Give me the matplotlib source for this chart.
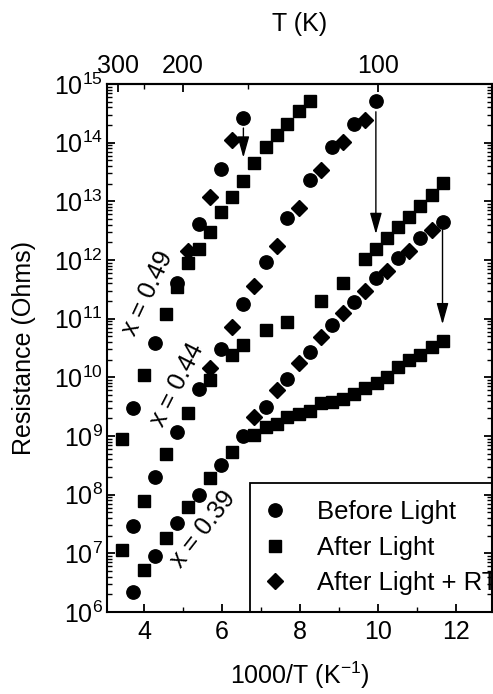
import numpy as np
import matplotlib
matplotlib.use("Agg")
import matplotlib.pyplot as plt
from matplotlib.ticker import LogLocator, NullFormatter, FixedLocator

plt.rcParams['font.family'] = ['Liberation Sans', 'DejaVu Sans']
plt.rcParams['mathtext.fontset'] = 'custom'
plt.rcParams['mathtext.rm'] = 'Liberation Sans'
plt.rcParams['mathtext.it'] = 'Liberation Sans'
plt.rcParams['mathtext.default'] = 'regular'

# ---------------- data ----------------
# x = 0.49
x49_before = [3.71, 4.28, 4.85, 5.42, 5.97, 6.55]
r49_before = [3.0e9, 3.8e10, 4.1e11, 4.1e12, 3.6e13, 2.6e14]
x49_after = [3.43, 4.00, 4.56, 4.85, 5.14, 5.42, 5.70, 5.97, 6.27, 6.55,
             6.83, 7.12, 7.40, 7.68, 7.97, 8.26]
r49_after = [8.8e8, 1.1e10, 1.2e11, 3.4e11, 8.8e11, 1.54e12, 3.0e12, 6.5e12,
             1.17e13, 2.2e13, 4.45e13, 8.5e13, 1.35e14, 2.1e14, 3.4e14, 5.2e14]
x49_rt = [5.14, 5.70, 6.27]
r49_rt = [1.43e12, 1.2e13, 1.09e14]

# x = 0.44
x44_before = [3.72, 4.28, 4.85, 5.42, 5.97, 6.55, 7.12, 7.68, 8.26, 8.83,
              9.39, 9.95]
r44_before = [2.9e7, 2.0e8, 1.16e9, 6.3e9, 3.0e10, 1.78e11, 9.4e11, 5.1e12,
              2.3e13, 8.5e13, 2.1e14, 5.2e14]
x44_after = [3.43, 4.00, 4.56, 5.14, 5.70, 6.27, 6.55, 7.12, 7.68, 8.54,
             9.11, 9.68, 9.95, 10.24, 10.52, 10.80, 11.09, 11.38, 11.66]
r44_after = [1.14e7, 7.9e7, 4.9e8, 2.44e9, 9.0e9, 2.4e10, 3.56e10, 6.3e10,
             8.9e10, 1.98e11, 4.1e11, 1.04e12, 1.52e12, 2.37e12, 3.6e12,
             5.5e12, 8.4e12, 1.3e13, 2.03e13]
x44_rt = [5.70, 6.27, 6.83, 7.40, 7.97, 8.54, 9.11, 9.68]
r44_rt = [1.43e10, 7.3e10, 3.6e11, 1.71e12, 7.7e12, 3.4e13, 1.04e14, 2.43e14]

# x = 0.39
x39_before = [3.72, 4.28, 4.85, 5.42, 5.97, 6.55, 7.12, 7.68, 8.26, 8.83,
              9.39, 9.95, 10.52, 11.09, 11.66]
r39_before = [2.2e6, 9.1e6, 3.25e7, 9.9e7, 3.2e8, 1.01e9, 3.16e9, 9.4e9,
              2.74e10, 7.8e10, 1.95e11, 4.9e11, 1.09e12, 2.33e12, 4.36e12]
x39_after = [4.00, 4.56, 5.14, 5.70, 6.27, 6.83, 7.12, 7.40, 7.68, 7.97,
             8.26, 8.54, 8.83, 9.11, 9.39, 9.68, 9.97, 10.24, 10.52, 10.80,
             11.09, 11.38, 11.66]
r39_after = [5.3e6, 1.85e7, 6.2e7, 1.95e8, 5.3e8, 1.04e9, 1.44e9, 1.63e9,
             2.13e9, 2.4e9, 2.72e9, 3.6e9, 3.76e9, 4.2e9, 5.2e9, 6.5e9,
             7.9e9, 1.0e10, 1.48e10, 1.98e10, 2.4e10, 3.33e10, 4.17e10]
x39_rt = [6.83, 7.40, 7.97, 8.54, 9.11, 9.68, 10.24, 10.80, 11.38]
r39_rt = [2.13e9, 6.1e9, 1.73e10, 4.8e10, 1.24e11, 3.0e11, 6.4e11, 1.44e12,
          3.25e12]

legend_labels = ["Before Light", "After Light", "After Light + RT"]
comp_labels = ["x = 0.49", "x = 0.44", "x = 0.39"]
top_ticks = [300, 200, 100]
top_minor = [250, 150]

# ---------------- figure ----------------
W, H = 493, 694
fig = plt.figure(figsize=(W / 100, H / 100), dpi=100)
ax = fig.add_axes([107 / W, 1 - 612 / H, (492 - 107) / W, (612 - 84) / H])

fs = 18
ms_c, ms_s, ms_d = 9.6, 8.6, 8.2
kw = dict(color='black', linestyle='none', zorder=3)

ax.plot(x49_before, r49_before, marker='o', ms=ms_c, label=legend_labels[0], **kw)
ax.plot(x49_after, r49_after, marker='s', ms=ms_s, label=legend_labels[1], **kw)
ax.plot(x49_rt, r49_rt, marker='D', ms=ms_d, label=legend_labels[2], **kw)
for xs, rs, m, ms in [(x44_before, r44_before, 'o', ms_c), (x44_after, r44_after, 's', ms_s),
                      (x44_rt, r44_rt, 'D', ms_d), (x39_before, r39_before, 'o', ms_c),
                      (x39_after, r39_after, 's', ms_s), (x39_rt, r39_rt, 'D', ms_d)]:
    ax.plot(xs, rs, marker=m, ms=ms, **kw)

ax.set_yscale('log')
ax.set_xlim(3.05, 12.93)
ax.set_ylim(1e6, 1e15)

# arrows from last "before" point to corresponding "after" point
def arrow_between(xb, rb, xa, ra, shA, shB):
    r_after = ra[xa.index(xb[-1])]
    ax.annotate('', xy=(xb[-1], r_after), xytext=(xb[-1], rb[-1]),
                arrowprops=dict(arrowstyle='-|>,head_length=1.0,head_width=0.28',
                                mutation_scale=13, color='black', lw=1.0,
                                shrinkA=shA, shrinkB=shB), zorder=4)

arrow_between(x49_before, r49_before, x49_after, r49_after, 7, 17)
arrow_between(x44_before, r44_before, x44_after, r44_after, 8, 11)
arrow_between(x39_before, r39_before, x39_after, r39_after, 4, 12)

# composition labels
ax.text(4.10, 2.7e11, comp_labels[0], rotation=65, fontsize=fs, ha='center', va='center')
ax.text(4.85, 7.4e9, comp_labels[1], rotation=63, fontsize=fs, ha='center', va='center')
ax.text(5.51, 2.6e7, comp_labels[2], rotation=52, fontsize=fs, ha='center', va='center')

# ticks
ax.set_xticks([4, 6, 8, 10, 12])
ax.set_xticks([5, 7, 9, 11], minor=True)
ax.yaxis.set_major_locator(LogLocator(base=10, numticks=20))
ax.yaxis.set_minor_locator(LogLocator(base=10, subs=np.arange(2, 10), numticks=200))
ax.yaxis.set_minor_formatter(NullFormatter())
ax.tick_params(axis='both', which='major', direction='in', length=6, width=1.3,
               labelsize=fs, pad=6)
ax.tick_params(axis='both', which='minor', direction='in', length=3.5, width=1.0)
ax.tick_params(axis='y', which='both', right=True)
ax.tick_params(axis='x', which='both', top=False)
ax.tick_params(axis='y', which='major', pad=3)
for s in ax.spines.values():
    s.set_linewidth(1.5)

ax.set_xlabel('1000/T (K$^{-1}$)', fontsize=fs, labelpad=11)
ax.set_ylabel('Resistance (Ohms)', fontsize=fs, labelpad=13)

def fwd(x):
    x = np.asarray(x, dtype=float)
    with np.errstate(divide='ignore'):
        return 1000.0 / x

secax = ax.secondary_xaxis('top', functions=(fwd, fwd))
secax.xaxis.set_major_locator(FixedLocator(top_ticks))
secax.xaxis.set_minor_locator(FixedLocator(top_minor))
secax.set_xticklabels([str(t) for t in top_ticks])
secax.tick_params(which='major', direction='in', length=6, width=1.3, labelsize=fs, pad=4)
secax.tick_params(which='minor', direction='in', length=3.5, width=1.0)
secax.spines['top'].set_linewidth(1.5)
secax.set_xlabel('T (K)', fontsize=fs, labelpad=17)

lfs = 18.5
leg = ax.legend(loc='lower left', bbox_to_anchor=(0.371, 0.0), borderaxespad=0,
                fontsize=lfs, frameon=True, fancybox=False, framealpha=1,
                edgecolor='black', handlelength=0.62, handletextpad=1.32,
                borderpad=0.66, labelspacing=0.44, numpoints=1)
leg.get_frame().set_linewidth(1.3)
leg.set_zorder(1)

fig.savefig('out.png', dpi=100)
